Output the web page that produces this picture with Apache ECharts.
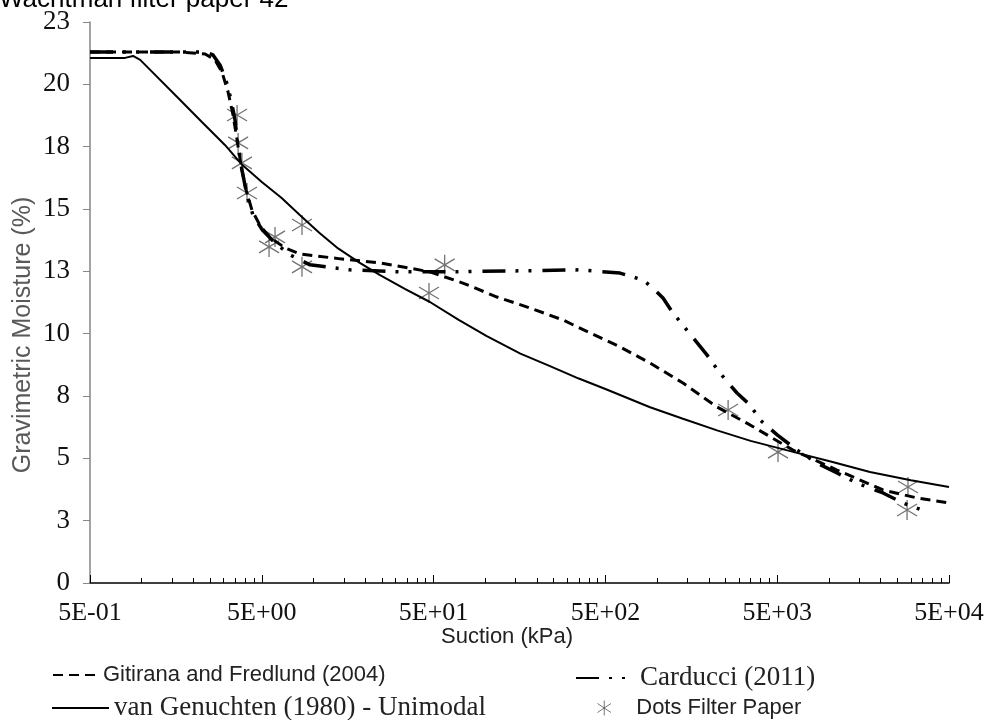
<!DOCTYPE html>
<html><head><meta charset="utf-8">
<script src="https://cdn.jsdelivr.net/npm/echarts@6/dist/echarts.min.js"></script>
<style>html,body{margin:0;padding:0;background:#fff}#c{width:992px;height:720px}</style>
</head><body><div id="c"></div>
<script>
const titleText = 'Wachtman filter paper 42';
const xAxisTitle = 'Suction (kPa)';
const yAxisTitle = 'Gravimetric Moisture (%)';

const xTickValues = [0.5, 5, 50, 500, 5000, 50000];
const xTickLabels = ['5E-01', '5E+00', '5E+01', '5E+02', '5E+03', '5E+04'];
const xMinorTickValues = [1, 1.5, 2, 2.5, 3, 3.5, 4, 4.5,
  10, 15, 20, 25, 30, 35, 40, 45,
  100, 150, 200, 250, 300, 350, 400, 450,
  1000, 1500, 2000, 2500, 3000, 3500, 4000, 4500,
  10000, 15000, 20000, 25000, 30000, 35000, 40000, 45000];
const yTickLabels = ['0', '3', '5', '8', '10', '13', '15', '18', '20', '23'];

const seriesNames = ['Gitirana and Fredlund (2004)', 'Carducci (2011)', 'van Genuchten (1980) - Unimodal', 'Dots Filter Paper'];

const gitSuction = [0.5, 1.67, 2.34, 2.67, 2.93, 3.18, 3.40, 3.59, 3.78, 4.05, 4.38, 4.88, 5.58, 6.83, 8.35, 14.3, 24.4, 47.6, 74, 117, 182, 283, 407, 608, 910, 1415, 2233, 3475, 6180, 11150, 20650, 32570, 50000];
const gitMoisture = [21.30, 21.30, 21.22, 20.98, 20.50, 19.70, 18.77, 17.77, 16.77, 15.76, 14.96, 14.34, 13.86, 13.44, 13.20, 13.0, 12.84, 12.48, 12.03, 11.47, 11.03, 10.55, 10.03, 9.47, 8.82, 8.02, 7.06, 6.34, 5.33, 4.53, 3.73, 3.41, 3.21];

const carSuction = [0.5, 2.34, 2.60, 2.855, 3.09, 3.31, 3.49, 3.63, 3.83, 4.10, 4.44, 5.01, 5.97, 7.3, 9.54, 16.3, 31.9, 62.3, 159, 356, 608, 828, 946, 1082, 1237, 1553, 1950, 2322, 2917, 3475, 3971, 5000, 6520, 8530, 11150, 14570, 20650, 26980, 38730];
const carMoisture = [21.30, 21.30, 21.18, 20.78, 20.18, 19.39, 18.58, 17.57, 16.57, 15.56, 14.76, 14.18, 13.64, 13.16, 12.76, 12.56, 12.48, 12.48, 12.52, 12.56, 12.43, 12.15, 11.83, 11.43, 10.83, 9.99, 9.15, 8.42, 7.62, 7.14, 6.54, 5.94, 5.33, 4.81, 4.41, 4.01, 3.61, 3.21, 2.81];

const vgSuction = [0.5, 0.80, 0.89, 0.98, 1.15, 1.63, 2.24, 3.05, 3.84, 5.0, 6.5, 8.35, 10.8, 13.9, 18.5, 24.4, 34, 47.6, 70, 102, 160, 238, 350, 500, 910, 1400, 2233, 3500, 6520, 10500, 17340, 30000, 50000];
const vgMoisture = [21.06, 21.06, 21.14, 20.98, 20.50, 19.45, 18.49, 17.57, 16.77, 16.08, 15.45, 14.75, 14.05, 13.42, 12.85, 12.35, 11.80, 11.27, 10.55, 9.90, 9.20, 8.70, 8.20, 7.78, 7.05, 6.60, 6.12, 5.70, 5.22, 4.85, 4.45, 4.12, 3.85];

const fpSuction = [3.59, 3.64, 3.83, 4.10, 5.97, 5.51, 8.57, 8.57, 47, 58, 2590, 5055, 28850, 28500];
const fpMoisture = [18.77, 17.65, 16.85, 15.64, 13.88, 13.48, 14.36, 12.68, 11.63, 12.76, 6.94, 5.25, 3.85, 2.93];

const pairs = (xs, ys) => xs.map((x, i) => [x, ys[i]]);
const starPath = 'path://M10,0L10,20M1,4L19,16M1,16L19,4';
const SANS = 'Liberation Sans, Arial, sans-serif';
const SERIF = 'Liberation Serif, Times New Roman, serif';
const hiddenDot = {color: 'transparent', borderColor: 'transparent', borderWidth: 0};

const chart = echarts.init(document.getElementById('c'), null, {renderer: 'canvas'});
chart.setOption({
  animation: false,
  backgroundColor: '#fff',
  title: {
    text: titleText, left: -1, top: -13, padding: 0,
    textStyle: {fontFamily: SANS, fontSize: 26, fontWeight: 'normal', color: '#000'}
  },
  grid: {left: 90, right: 43, top: 22, bottom: 137, containLabel: false},
  xAxis: [{
    type: 'log', logBase: 10, min: 0.5, max: 50000, position: 'bottom',
    axisLine: {show: true, onZero: false, lineStyle: {color: '#000', width: 1.5}},
    axisTick: {show: true, inside: true, length: 8, customValues: xTickValues, lineStyle: {color: '#000', width: 1}},
    axisLabel: {
      customValues: xTickValues, margin: 17, fontFamily: SERIF, fontSize: 26, color: '#111',
      formatter: (v) => {
        const i = xTickValues.findIndex(t => Math.abs(Math.log10(t) - Math.log10(v)) < 1e-6);
        return i >= 0 ? xTickLabels[i] : '';
      }
    },
    splitLine: {show: false}, minorTick: {show: false}
  }, {
    type: 'log', logBase: 10, min: 0.5, max: 50000, position: 'bottom',
    axisLine: {show: false},
    axisTick: {show: true, inside: true, length: 5, customValues: xMinorTickValues, lineStyle: {color: '#000', width: 1}},
    axisLabel: {show: false}, splitLine: {show: false}
  }],
  yAxis: {
    type: 'value', min: 0, max: 22.5, interval: 2.5,
    axisLine: {show: true, lineStyle: {color: '#868686', width: 1.5}},
    axisTick: {show: true, length: 7, lineStyle: {color: '#868686', width: 1}},
    axisLabel: {margin: 20, fontFamily: SERIF, fontSize: 27, color: '#111',
      formatter: (v) => yTickLabels[Math.round(v / 2.5)]},
    splitLine: {show: false}
  },
  legend: [
    {data: [{name: seriesNames[0], itemStyle: hiddenDot, textStyle: {fontFamily: SANS, fontSize: 22}}],
     left: 52, top: 660, itemWidth: 45, itemHeight: 14, padding: 0, selectedMode: false,
     textStyle: {color: '#222', lineHeight: 30}},
    {data: [{name: seriesNames[2], itemStyle: hiddenDot, textStyle: {fontFamily: SERIF, fontSize: 27}}],
     left: 51, top: 693, itemWidth: 57, itemHeight: 14, padding: 0, selectedMode: false,
     textStyle: {color: '#222', lineHeight: 30}},
    {data: [{name: seriesNames[1], itemStyle: hiddenDot, textStyle: {fontFamily: SERIF, fontSize: 27, padding: [0, 0, 0, 7]}}],
     left: 575, top: 663, itemWidth: 52, itemHeight: 14, padding: 0, selectedMode: false,
     textStyle: {color: '#222', lineHeight: 30}},
    {data: [{name: seriesNames[3], icon: starPath,
             itemStyle: {color: 'transparent', borderColor: '#555', borderWidth: 1},
             textStyle: {fontFamily: SANS, fontSize: 22, padding: [0, 0, 0, 19]}}],
     left: 597, top: 693, itemWidth: 16, itemHeight: 15, padding: 0, selectedMode: false,
     textStyle: {color: '#222', lineHeight: 30}}
  ],
  graphic: [
    {type: 'text', x: 507, y: 637, silent: true,
     style: {text: xAxisTitle, font: '22px ' + SANS, fill: '#222', align: 'center', verticalAlign: 'middle'}},
    {type: 'text', x: 23, y: 335, rotation: Math.PI / 2, silent: true,
     style: {text: yAxisTitle, font: '25px ' + SANS, fill: '#595959', align: 'center', verticalAlign: 'middle'}}
  ],
  series: [
    {name: seriesNames[3], type: 'scatter', xAxisIndex: 0, data: pairs(fpSuction, fpMoisture),
     symbol: starPath, symbolSize: [20, 20],
     itemStyle: {color: 'transparent', borderColor: '#505050', borderWidth: 1.3}, z: 2},
    {name: seriesNames[0], type: 'line', xAxisIndex: 0, data: pairs(gitSuction, gitMoisture),
     showSymbol: false, symbol: 'none', smooth: false,
     lineStyle: {color: '#000', width: 3, type: [10, 6]}, itemStyle: {color: '#000'}, z: 3},
    {name: seriesNames[1], type: 'line', xAxisIndex: 0, data: pairs(carSuction, carMoisture),
     showSymbol: false, symbol: 'none', smooth: false,
     lineStyle: {color: '#000', width: 3.5, type: [23, 10, 3, 10, 3, 11]}, itemStyle: {color: '#000'}, z: 3},
    {name: seriesNames[2], type: 'line', xAxisIndex: 0, data: pairs(vgSuction, vgMoisture),
     showSymbol: false, symbol: 'none', smooth: false,
     lineStyle: {color: '#000', width: 2, type: 'solid'}, itemStyle: {color: '#000'}, z: 3}
  ]
});
</script>
</body></html>
